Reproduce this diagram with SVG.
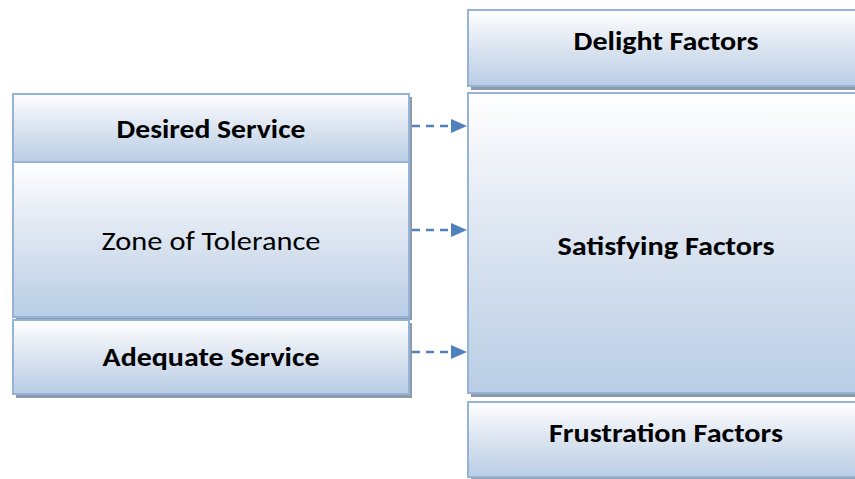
<svg xmlns="http://www.w3.org/2000/svg" width="855" height="479" viewBox="0 0 855 479">
<defs>
<linearGradient id="g" x1="0" y1="0" x2="0" y2="1">
<stop offset="0" stop-color="#ffffff"/>
<stop offset="0.4" stop-color="#e2e9f3"/>
<stop offset="1" stop-color="#b9cde5"/>
</linearGradient>
<marker id="ah" markerWidth="16" markerHeight="14" refX="16" refY="7" orient="auto" markerUnits="userSpaceOnUse">
<path d="M0,0 L16,7 L0,14 Z" fill="#4f81bd"/>
</marker>
</defs>
<style>
.sh{fill:#8e9aab}
.bx{fill:url(#g);stroke:#95b3d7;stroke-width:2}
.t{font-family:Carlito,"Open Sans","Liberation Sans",sans-serif;font-size:27px;fill:#000;text-anchor:middle}
.b{font-weight:bold}
.c{stroke:#4f81bd;stroke-width:2.5;stroke-dasharray:8 6;fill:none}
</style>
<g id="desired">
<rect class="sh" x="16" y="97" width="396" height="68"/>
<rect class="bx" x="13" y="94" width="396" height="68"/>
<text class="t b" x="211" y="138" textLength="189" lengthAdjust="spacingAndGlyphs">Desired Service</text>
</g>
<g id="zone">
<rect class="sh" x="16" y="165" width="396" height="155"/>
<rect class="bx" x="13" y="162" width="396" height="155"/>
<text class="t" x="211" y="250" textLength="219" lengthAdjust="spacingAndGlyphs">Zone of Tolerance</text>
</g>
<g id="adequate">
<rect class="sh" x="16" y="323" width="396" height="75"/>
<rect class="bx" x="13" y="320" width="396" height="74"/>
<text class="t b" x="211" y="366" textLength="217" lengthAdjust="spacingAndGlyphs">Adequate Service</text>
</g>
<g id="delight">
<rect class="sh" x="471" y="13" width="390" height="77"/>
<rect class="bx" x="468" y="10" width="392" height="76"/>
<text class="t b" x="666" y="50" textLength="185" lengthAdjust="spacingAndGlyphs">Delight Factors</text>
</g>
<g id="satisfying">
<rect class="sh" x="471" y="96" width="390" height="301"/>
<rect class="bx" x="468" y="93" width="392" height="300"/>
<text class="t b" x="666" y="255" textLength="217" lengthAdjust="spacingAndGlyphs">Satisfying Factors</text>
</g>
<g id="frustration">
<rect class="sh" x="471" y="405" width="390" height="76"/>
<rect class="bx" x="468" y="402" width="392" height="75"/>
<text class="t b" x="666" y="442" textLength="234" lengthAdjust="spacingAndGlyphs">Frustration Factors</text>
</g>
<g id="connectors">
<line class="c" x1="412" y1="126" x2="467" y2="126" marker-end="url(#ah)"/>
<line class="c" x1="412" y1="230" x2="467" y2="230" marker-end="url(#ah)"/>
<line class="c" x1="412" y1="352" x2="467" y2="352" marker-end="url(#ah)"/>
</g>
</svg>
